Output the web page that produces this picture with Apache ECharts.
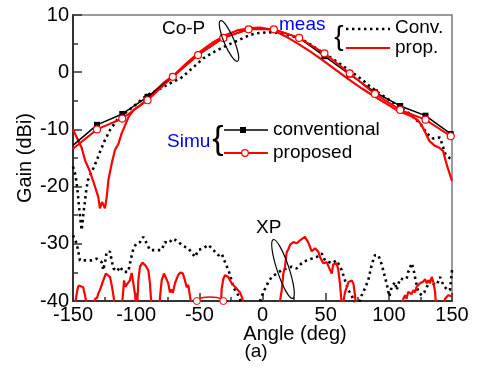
<!DOCTYPE html>
<html><head><meta charset="utf-8">
<script src="https://cdn.jsdelivr.net/npm/echarts@6/dist/echarts.min.js"></script>
<style>html,body{margin:0;padding:0;background:#fff}#c{width:480px;height:372px}</style>
</head><body><div id="c"></div>
<script>
// ---- data ----
var xTicks = [-150, -100, -50, 0, 50, 100, 150];
var yTicks = [-40, -30, -20, -10, 0, 10];

// simulation (markers)
var simAngles = [-150, -131, -111, -91, -71, -51, -31, -11, 9, 29, 49, 69, 89, 109, 129, 149];
var simConv   = [-12.8, -9.2, -7.3, -4.3, -0.8, 3.0, 6.0, 7.5, 7.5, 6.0, 2.8, -0.4, -3.5, -5.9, -7.6, -10.8];
var simProp   = [-13.4, -10.0, -8.1, -4.9, -0.8, 3.0, 6.0, 7.5, 7.5, 6.0, 3.3, -0.2, -3.8, -6.6, -8.3, -11.2];

// measured co-pol, proposed
var measPropCoAng = [-150,-146,-143,-140.5,-136.5,-132.6,-130,-128.7,-127,-124.7,-123.3,-122,-119.4,-116.8,-114,-111.5,-108.8,-106,-102,-97,-92,-85,-78,-70,-60,-50,-40,-30,-20,-10,-2,8,18,28,38,47,58,68,79,89,98,107.5,118,123,126,128.6,132,136,140,143,145,147,150];
var measPropCo    = [-10.0,-11.9,-13.3,-15.4,-17.4,-20.0,-21.8,-23.8,-22.7,-23.8,-21.8,-18.9,-16.0,-13.6,-12.5,-10.7,-9.3,-7.8,-6.6,-5.8,-4.9,-3.3,-1.8,-0.5,1.6,3.5,5.1,6.4,7.3,7.7,7.8,7.4,6.3,5.0,3.6,2.2,0.4,-1.2,-2.9,-4.3,-5.5,-6.8,-7.7,-8.4,-9.3,-10.4,-12.0,-12.8,-13.2,-13.8,-15.5,-17.0,-19.0];

// measured co-pol, conventional
var measConvCoAng = [-150,-148,-146.5,-145,-143.2,-142.4,-141.9,-140.8,-139.5,-138.2,-136,-133.9,-131,-128.6,-125,-120.7,-115,-108,-100,-92,-85,-78.5,-72,-65,-55,-47,-38,-28,-18,-10,-5,5,15,25,35,45,55,63,72,80,84,92,100,108,116,120,125,130,135,140.5,142.5,144.5,148,150];
var measConvCo    = [-16.5,-18.0,-20.5,-24.0,-27.6,-26.2,-25.0,-23.0,-20.6,-18.9,-17.8,-16.8,-15.3,-13.9,-12.0,-10.1,-8.3,-7.0,-5.6,-4.1,-3.3,-2.6,-1.8,-1.1,0.8,2.4,3.6,4.7,5.7,6.5,6.8,7.0,6.8,6.2,5.3,3.8,2.4,1.2,-0.2,-1.5,-2.3,-3.6,-4.8,-6.0,-7.2,-8.0,-9.0,-10.7,-11.6,-11.4,-12.8,-14.2,-15.0,-15.3];

// measured cross-pol, conventional
var measConvXpAng = [-150,-147,-145.8,-144.5,-139.2,-135.3,-131.3,-127.3,-126,-124.5,-123.3,-120.7,-119.4,-118,-115,-112.8,-110.1,-106.2,-104.9,-102.2,-99.6,-96.9,-94.4,-91.7,-89.1,-83.8,-79.8,-77.2,-74.6,-70.6,-66.6,-62.7,-58.7,-53.4,-50.8,-46.9,-42.9,-38.9,-35,-32.3,-29.7,-27,-24.4,-23.1,-20.4,-17.8,-16,-3,-1.4,0.6,4.6,7.3,11.2,15.2,19.2,23.1,27.1,31,35,38.9,42.9,46.9,49.5,54.8,58.7,62.7,65.3,68,70.6,74,76.5,78.5,81.1,83.8,86.5,89,91.7,94.4,96.2,98.3,100.4,102.3,104.9,106.2,108.8,111.5,114.1,115.4,118.1,119.4,120.7,122,123.3,126,128,130,132.6,135,137.9,140.5,143.1,146,148.4,150];
var measConvXp    = [-28.5,-30.0,-31.4,-32.9,-32.9,-32.9,-32.6,-33.2,-34.6,-33.0,-31.4,-31.4,-32.9,-34.3,-34.8,-34.0,-34.9,-34.9,-33.4,-30.8,-29.9,-29.7,-28.8,-29.9,-31.1,-31.1,-31.1,-29.7,-29.9,-29.1,-29.7,-30.4,-30.8,-32.3,-31.1,-30.8,-30.2,-31.1,-32.0,-31.7,-33.2,-34.6,-36.4,-37.6,-38.5,-39.6,-41,-41,-39.6,-38.5,-36.7,-35.8,-35.2,-34.6,-34.3,-34.0,-34.3,-33.4,-32.9,-32.6,-32.3,-31.7,-32.9,-33.4,-32.9,-34.6,-36.4,-38.1,-39.0,-41,-40.5,-39.0,-37.8,-36.3,-33.6,-32.0,-32.0,-33.6,-35.2,-37.0,-39.2,-37.5,-36.7,-38.1,-36.1,-36.2,-36.1,-34.9,-33.4,-34.3,-35.8,-37.2,-38.4,-39.0,-38.5,-37.6,-36.4,-37.0,-37.2,-35.8,-37.2,-38.0,-38.1,-34.6];

// measured cross-pol, proposed
var measPropXpAng = [-150,-148,-146.5,-145.5,-144,-142,-140.5,-139,-134,-132.6,-131,-130,-128.7,-126,-124,-122.5,-120.7,-119.4,-118,-117,-112,-110.5,-109.6,-108.5,-107,-105,-103.6,-102.5,-101,-100,-99,-98.3,-97,-95,-93,-91.7,-90.4,-89.1,-88,-82,-81,-79.8,-78,-76.5,-74.6,-73.3,-72,-71,-69.3,-66.6,-65,-63,-61.4,-60,-58.7,-57.4,-56,-33,-32.3,-31,-29.7,-28.5,-27,-25.7,-24.4,-23.1,-21.8,-20.4,-17.8,-16,-15,13,13.9,15.2,16.5,17.8,19.2,20.4,21.8,23.1,24.4,25.7,27.1,28.3,29.7,31,33.6,36.3,38.9,41.6,42.9,44.2,45.5,46.9,48.1,49.5,50.8,52.9,54.8,56,57.4,58.7,60,61.3,62.5,63.5,64.5,65.3,68,70.6,72,73.2,74,110,111.5,112.8,114,115.4,116.8,118,119.4,120.7,122,123.3,124.7,126,127.3,128.7,130,131.3,132.6,133.9,135,136.5,137.5,143,144.5,145.8,147,148.4,150];
var measPropXp    = [-42,-40,-38.0,-37.3,-37.1,-37.6,-39.0,-41,-42,-39.6,-39.5,-38.7,-38.1,-36.4,-35.2,-34.9,-35.8,-37.2,-39.0,-41,-42,-39.0,-36.4,-37.5,-37.0,-36.4,-35.1,-36.5,-38.7,-41,-40,-36.4,-34.0,-33.3,-33.7,-33.4,-34.6,-36.9,-40.5,-42,-39.0,-36.4,-35.2,-35.5,-36.9,-38.5,-38.0,-38.6,-36.9,-35.4,-35.0,-35.2,-36.4,-37.6,-37.2,-39.2,-41,-41,-37.8,-36.1,-35.5,-35.8,-35.8,-36.4,-36.9,-37.2,-37.5,-37.6,-38.5,-39.5,-41,-42,-40,-38.1,-35.2,-34.0,-31.4,-31.0,-30.2,-30.0,-29.7,-29.6,-29.9,-30.1,-29.4,-29.1,-28.8,-29.8,-31.3,-30.8,-30.8,-31.4,-32.3,-32.9,-33.4,-33.2,-33.2,-34.3,-35.2,-33.6,-33.7,-33.4,-34.6,-36.9,-40,-41,-39.5,-38.5,-36.7,-36.4,-37.0,-39.0,-41,-42,-39.6,-39.0,-39.6,-38.4,-38.6,-38.8,-38.1,-38.5,-37.5,-37.8,-36.9,-37.0,-36.6,-36.2,-36.9,-36.4,-36.9,-35.8,-36.5,-38.2,-41,-42,-39.6,-39.6,-39.0,-38.7,-39.2];

// small red segment with open circles near the floor
var floorAng = [-52, -47, -42, -36, -31];
var floorVal = [-40, -39.4, -39.3, -39.4, -40];

function pairs(a, b) { return a.map(function (x, i) { return [x, b[i]]; }); }

var FONT = '"Liberation Sans", Arial, sans-serif';
var RED = '#ff0000';
var BLUE = '#0000ff';

var chart = echarts.init(document.getElementById('c'), null, {renderer: 'canvas'});

var simConvData = pairs(simAngles, simConv).map(function (p, i) {
  return i === 0 ? {value: p, symbol: 'none'} : {value: p};
});
var simPropData = pairs(simAngles, simProp).map(function (p, i) {
  return i === 0 ? {value: p, symbol: 'none'} : {value: p};
});
var floorData = pairs(floorAng, floorVal).map(function (p, i) {
  return (i === 0 || i === floorAng.length - 1) ? {value: p} : {value: p, symbol: 'none'};
});

var dotted = {color: '#000', width: 2.6, type: [2.4, 3.6], cap: 'butt'};

chart.setOption({
  animation: false,
  backgroundColor: '#fff',
  grid: {left: 73, right: 28, top: 15, bottom: 71, show: true, borderColor: '#7a7a7a', borderWidth: 1.5, backgroundColor: 'transparent'},
  xAxis: {
    type: 'value', min: -150, max: 150, interval: 50,
    axisLine: {show: true, onZero: false, lineStyle: {color: '#333', width: 2}},
    axisTick: {show: true, inside: true, length: 8, lineStyle: {color: '#333', width: 1.5}},
    minorTick: {show: true, splitNumber: 2, length: 4, lineStyle: {color: '#333', width: 1.5}},
    splitLine: {show: false},
    axisLabel: {color: '#000', fontSize: 20, fontFamily: FONT, margin: 4,
      formatter: function (v) { return xTicks.indexOf(v) >= 0 ? String(v) : ''; }}
  },
  yAxis: {
    type: 'value', min: -40, max: 10, interval: 10,
    axisLine: {show: true, onZero: false, lineStyle: {color: '#333', width: 2}},
    axisTick: {show: true, inside: true, length: 9, lineStyle: {color: '#333', width: 1.5}},
    minorTick: {show: true, splitNumber: 2, length: 5, lineStyle: {color: '#333', width: 1.5}},
    splitLine: {show: false},
    axisLabel: {color: '#000', fontSize: 20, fontFamily: FONT, margin: 4,
      formatter: function (v) { return yTicks.indexOf(v) >= 0 ? String(v) : ''; }}
  },
  series: [
    {type: 'line', name: 'meas conv XP', data: pairs(measConvXpAng, measConvXp), showSymbol: false, symbol: 'none', lineStyle: dotted, clip: true, z: 2},
    {type: 'line', name: 'meas prop XP', data: pairs(measPropXpAng, measPropXp), showSymbol: false, symbol: 'none', lineStyle: {color: RED, width: 2.2}, clip: true, z: 3},
    {type: 'line', name: 'floor', data: floorData, smooth: true, symbol: 'circle', symbolSize: 7,
      itemStyle: {color: '#fff', borderColor: RED, borderWidth: 1}, lineStyle: {color: RED, width: 1.5}, clip: false, z: 3},
    {type: 'line', name: 'meas conv', data: pairs(measConvCoAng, measConvCo), showSymbol: false, symbol: 'none', lineStyle: dotted, clip: true, z: 4},
    {type: 'line', name: 'meas prop', data: pairs(measPropCoAng, measPropCo), showSymbol: false, symbol: 'none', lineStyle: {color: RED, width: 2.2}, clip: true, z: 5},
    {type: 'line', name: 'conventional', data: simConvData, symbol: 'rect', symbolSize: 6,
      itemStyle: {color: '#000'}, lineStyle: {color: '#000', width: 1.5}, clip: false, z: 6},
    {type: 'line', name: 'proposed', data: simPropData, symbol: 'circle', symbolSize: 7,
      itemStyle: {color: '#fff', borderColor: RED, borderWidth: 1.2}, lineStyle: {color: RED, width: 2}, clip: false, z: 7}
  ],
  graphic: [
    {type: 'text', left: null, x: 295, y: 334, style: {text: 'Angle (deg)', font: '20px ' + FONT, fill: '#000', textAlign: 'center', textVerticalAlign: 'middle'}},
    {type: 'text', x: 256, y: 352, style: {text: '(a)', font: '19px ' + FONT, fill: '#000', textAlign: 'center', textVerticalAlign: 'middle'}},
    {type: 'text', x: 25, y: 158, rotation: Math.PI / 2, style: {text: 'Gain (dBi)', font: '20px ' + FONT, fill: '#000', textAlign: 'center', textVerticalAlign: 'middle'}},

    {type: 'text', x: 162, y: 29, z: 20, style: {text: 'Co-P', font: '19px ' + FONT, fill: '#000', textAlign: 'left', textVerticalAlign: 'middle'}},
    {type: 'ellipse', x: 229, y: 41, rotation: 0.4, z: 20, shape: {cx: 0, cy: 0, rx: 5, ry: 22}, style: {fill: 'none', stroke: '#000', lineWidth: 1.2}},

    {type: 'text', x: 279, y: 25, z: 20, style: {text: 'meas', font: '19px ' + FONT, fill: BLUE, textAlign: 'left', textVerticalAlign: 'middle'}},
    {type: 'text', x: 339, y: 37, z: 20, style: {text: '{', font: '28px ' + FONT, fill: '#000', textAlign: 'center', textVerticalAlign: 'middle'}},
    {type: 'line', z: 20, shape: {x1: 346, y1: 29, x2: 390, y2: 29}, style: {stroke: '#000', lineWidth: 2.6, lineDash: [2.4, 3.6]}},
    {type: 'text', x: 395, y: 28, z: 20, style: {text: 'Conv.', font: '19px ' + FONT, fill: '#000', textAlign: 'left', textVerticalAlign: 'middle'}},
    {type: 'line', z: 20, shape: {x1: 346, y1: 48, x2: 390, y2: 48}, style: {stroke: RED, lineWidth: 2.2}},
    {type: 'text', x: 395, y: 48, z: 20, style: {text: 'prop.', font: '19px ' + FONT, fill: '#000', textAlign: 'left', textVerticalAlign: 'middle'}},

    {type: 'text', x: 167, y: 142, z: 20, style: {text: 'Simu', font: '19px ' + FONT, fill: BLUE, textAlign: 'left', textVerticalAlign: 'middle'}},
    {type: 'text', x: 218, y: 140, z: 20, style: {text: '{', font: '34px ' + FONT, fill: '#000', textAlign: 'center', textVerticalAlign: 'middle'}},
    {type: 'line', z: 20, shape: {x1: 224, y1: 130, x2: 268, y2: 130}, style: {stroke: '#000', lineWidth: 1.5}},
    {type: 'rect', z: 21, shape: {x: 240, y: 127, width: 6, height: 6}, style: {fill: '#000'}},
    {type: 'text', x: 273, y: 130, z: 20, style: {text: 'conventional', font: '19px ' + FONT, fill: '#000', textAlign: 'left', textVerticalAlign: 'middle'}},
    {type: 'line', z: 20, shape: {x1: 224, y1: 153, x2: 268, y2: 153}, style: {stroke: RED, lineWidth: 2}},
    {type: 'circle', z: 21, shape: {cx: 245, cy: 153, r: 3.3}, style: {fill: '#fff', stroke: RED, lineWidth: 1.2}},
    {type: 'text', x: 273, y: 153, z: 20, style: {text: 'proposed', font: '19px ' + FONT, fill: '#000', textAlign: 'left', textVerticalAlign: 'middle'}},

    {type: 'text', x: 256, y: 228, z: 20, style: {text: 'XP', font: '19px ' + FONT, fill: '#000', textAlign: 'left', textVerticalAlign: 'middle'}},
    {type: 'ellipse', x: 283, y: 269, rotation: 0.32, z: 20, shape: {cx: 0, cy: 0, rx: 6, ry: 31}, style: {fill: 'none', stroke: '#000', lineWidth: 1.2}}
  ]
});
</script>
</body></html>
